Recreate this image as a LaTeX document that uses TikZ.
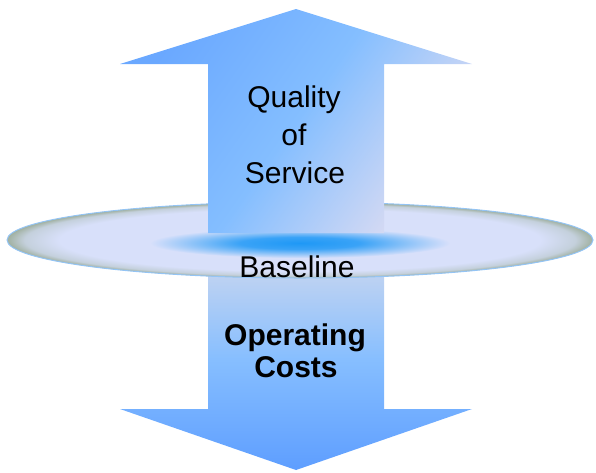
\documentclass[tikz,border=0pt]{standalone}
\usepackage{fontspec}
\setmainfont{Liberation Sans}
\definecolor{upA}{HTML}{6AA8FF}
\definecolor{upB}{HTML}{84BEFF}
\definecolor{upC}{HTML}{DCDCF2}
\definecolor{dnTop}{HTML}{CED8EE}
\definecolor{dnMid}{HTML}{86BEFF}
\definecolor{dnBot}{HTML}{5E9EFF}
\definecolor{discIn}{HTML}{D8E0FA}
\definecolor{discMid}{HTML}{C4D0DC}
\definecolor{discOut}{HTML}{A0B0A0}
\definecolor{glow}{HTML}{1E98F6}
\definecolor{rim}{HTML}{94C4F4}
\pgfdeclareradialshading{discshade}{\pgfpoint{0bp}{0bp}}{color(0bp)=(discIn); color(20.5bp)=(discIn); color(23.5bp)=(discMid); color(25bp)=(discOut); color(50bp)=(discOut)}
\pgfdeclareradialshading{glowshade}{\pgfpoint{0bp}{0bp}}{color(0bp)=(glow); color(10bp)=(glow!85!discIn); color(25bp)=(discIn); color(50bp)=(discIn)}
\begin{document}
\begin{tikzpicture}[x=1pt,y=-1pt,
  lbl/.style={inner sep=0pt,anchor=base,text=black,font=\fontsize{30}{38}\selectfont},
  blbl/.style={lbl,font=\fontsize{30}{38}\selectfont\bfseries}]
\useasboundingbox (0,0) rectangle (596,472);
% down arrow (behind disc)
\shade[top color=dnTop,bottom color=dnBot,middle color=dnMid]
  (208,250) -- (384,250) -- (384,409) -- (472,409) -- (296,470) -- (120,409) -- (208,409) -- cycle;
% disc
\shade[shading=discshade] (300,240) ellipse [x radius=293, y radius=38];
\shade[shading=glowshade] (300,243) ellipse [x radius=150, y radius=15];
\draw[rim,line width=1pt] (300,240) ellipse [x radius=293, y radius=38];
% up arrow (in front)
\shade[top color=upA,bottom color=upC,middle color=upB,shading angle=55]
  (296,9) -- (472,64) -- (384,64) -- (384,233) -- (208,233) -- (208,64) -- (120,64) -- cycle;
% texts
\node[lbl] (q1) at (294,107) {Quality};
\node[lbl] (q2) at (294,145) {of};
\node[lbl] (q3) at (295,183) {Service};
\node[lbl] (base) at (297,277) {Baseline};
\node[blbl] (op1) at (295,345) {Operating};
\node[blbl] (op2) at (296,377) {Costs};
\end{tikzpicture}
\end{document}
